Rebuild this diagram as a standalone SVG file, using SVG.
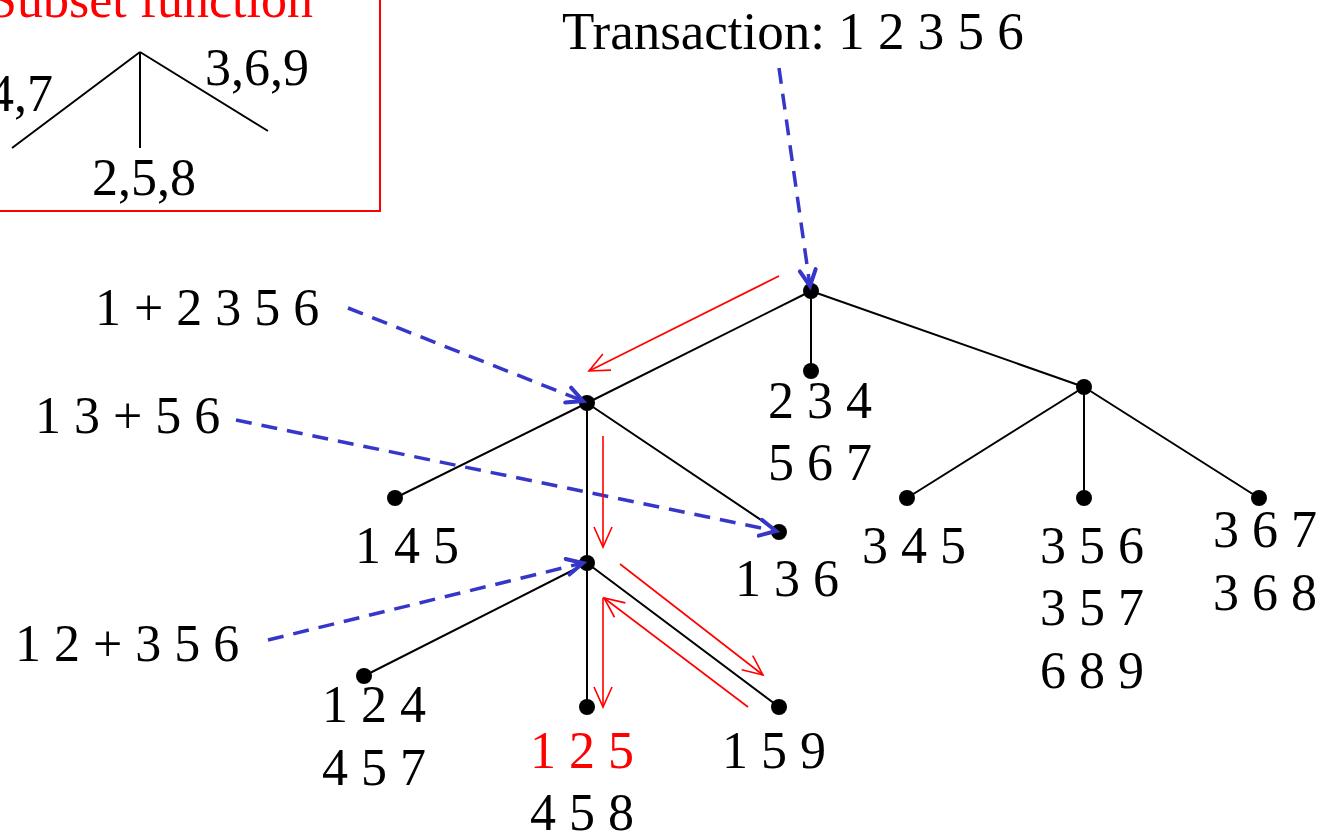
<svg xmlns="http://www.w3.org/2000/svg" width="1325" height="835" viewBox="0 0 1325 835">
<style>
text{font-family:"Liberation Serif","Times New Roman",serif;font-size:52px;fill:#000}
.red{fill:#ff0000}
.edge{stroke:#000;stroke-width:2;fill:none}
.dot{fill:#000}
.blue{stroke:#3636c8;stroke-width:3.5;stroke-dasharray:16 10;fill:none}
.rarr{stroke:#ff0000;stroke-width:1.6;fill:none}
</style>
<defs>
<marker id="bh" markerUnits="userSpaceOnUse" markerWidth="30" markerHeight="30" refX="18" refY="10" orient="auto" viewBox="0 0 30 20">
<path d="M2,2 L18,10 L2,18" fill="none" stroke="#3636c8" stroke-width="4" stroke-linecap="round"/>
</marker>
<marker id="rh" markerUnits="userSpaceOnUse" markerWidth="30" markerHeight="30" refX="21" refY="10" orient="auto" viewBox="0 0 30 20">
<path d="M1,1 L21,10 L1,19" fill="none" stroke="#ff0000" stroke-width="1.6"/>
</marker>
</defs>

<g id="subset-box">
<rect x="-10" y="-10" width="390" height="221" fill="none" stroke="#ff0000" stroke-width="2"/>
<text x="-12" y="17" class="red">Subset function</text>
<path class="edge" d="M140,52 L12,148 M140,52 L140,148 M140,52 L268,131"/>
<text x="-51" y="111">1,4,7</text>
<text x="205" y="85">3,6,9</text>
<text x="92" y="195">2,5,8</text>
</g>

<g id="transaction"><text x="562" y="49" style="font-size:53px">Transaction: 1 2 3 5 6</text></g>

<g id="tree-edges">
<path class="edge" d="M811,291 L587,403 M811,291 L811,371 M811,291 L1084,387 M587,403 L395,498 M587,403 L587,563 M587,403 L779,532 M587,563 L364,676 M587,563 L587,707 M587,563 L779,707 M1084,387 L907,498 M1084,387 L1084,498 M1084,387 L1259,498"/>
</g>

<g id="n-root"><circle class="dot" cx="811" cy="291" r="8"/></g>
<g id="n-1"><circle class="dot" cx="587" cy="403" r="8"/></g>
<g id="n-2"><circle class="dot" cx="811" cy="371" r="8"/><text x="768" y="418">2 3 4</text><text x="768" y="480">5 6 7</text></g>
<g id="n-3"><circle class="dot" cx="1084" cy="387" r="8"/></g>
<g id="n-145"><circle class="dot" cx="395" cy="498" r="8"/><text x="355" y="563">1 4 5</text></g>
<g id="n-12"><circle class="dot" cx="587" cy="563" r="8"/></g>
<g id="n-136"><circle class="dot" cx="779" cy="532" r="8"/><text x="735" y="596">1 3 6</text></g>
<g id="n-124"><circle class="dot" cx="364" cy="676" r="8"/><text x="322" y="722">1 2 4</text><text x="322" y="785">4 5 7</text></g>
<g id="n-125"><circle class="dot" cx="587" cy="707" r="8"/><text x="530" y="768" class="red">1 2 5</text><text x="530" y="830">4 5 8</text></g>
<g id="n-159"><circle class="dot" cx="779" cy="707" r="8"/><text x="722" y="768">1 5 9</text></g>
<g id="n-345"><circle class="dot" cx="907" cy="498" r="8"/><text x="862" y="563">3 4 5</text></g>
<g id="n-356"><circle class="dot" cx="1084" cy="498" r="8"/><text x="1040" y="563">3 5 6</text><text x="1040" y="625">3 5 7</text><text x="1040" y="688">6 8 9</text></g>
<g id="n-367"><circle class="dot" cx="1259" cy="498" r="8"/><text x="1213" y="547">3 6 7</text><text x="1213" y="610">3 6 8</text></g>

<g id="labels">
<text x="95" y="325">1 + 2 3 5 6</text>
<text x="35" y="433">1 3 + 5 6</text>
<text x="15" y="661">1 2 + 3 5 6</text>
</g>

<g id="connectors">
<path class="blue" d="M779,68 L810,286" marker-end="url(#bh)"/>
<path class="blue" d="M348,308 L583,401" marker-end="url(#bh)"/>
<path class="blue" d="M236,420 L776,531" marker-end="url(#bh)"/>
<path class="blue" d="M268,640 L583,563" marker-end="url(#bh)"/>
<path class="rarr" d="M779,276 L589,371" marker-end="url(#rh)"/>
<path class="rarr" d="M603,436 L603,547" marker-end="url(#rh)"/>
<path class="rarr" d="M603,598 L603,707" marker-end="url(#rh)"/>
<path class="rarr" d="M748,707 L604,598" marker-end="url(#rh)"/>
<path class="rarr" d="M620,564 L763,675" marker-end="url(#rh)"/>
</g>
</svg>
